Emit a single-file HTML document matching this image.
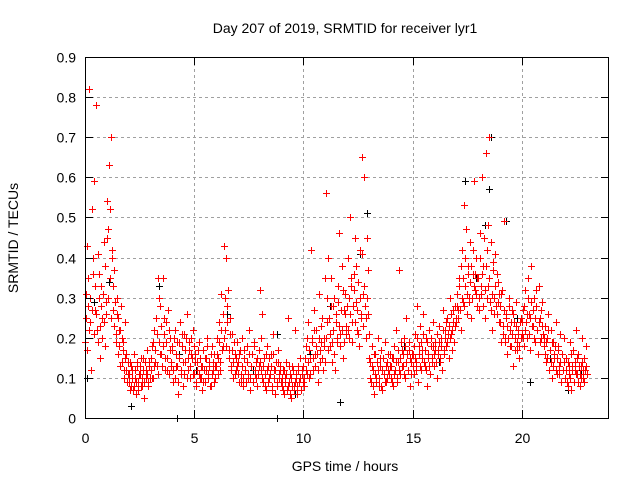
<!DOCTYPE html>
<html><head><meta charset="utf-8"><style>
body{margin:0;background:#fff;}
svg{display:block;font-family:"Liberation Sans",sans-serif;}
</style></head><body>
<svg id="chart" width="640" height="480" viewBox="0 0 640 480">
<rect width="640" height="480" fill="#fff"/>
<g id="grid"></g>
<g id="marks"></g>
<g id="axes"></g>
<text x="345" y="33" font-size="14" text-anchor="middle">Day 207 of 2019, SRMTID for receiver lyr1</text>
<text x="345" y="471" font-size="14" text-anchor="middle">GPS time / hours</text>
<text transform="translate(18,238) rotate(-90)" font-size="14" text-anchor="middle">SRMTID / TECUs</text>
</svg>
<script>
const xTicks=[0,5,10,15,20];
const yTicks=[0,0.1,0.2,0.3,0.4,0.5,0.6,0.7,0.8,0.9];
const yTickLabels=["0","0.1","0.2","0.3","0.4","0.5","0.6","0.7","0.8","0.9"];
const redStartHour=0.0;
const redStepHour=0.05;
const redValues=[
.19,.31,.43,.28,.82,.24,.52,.36,.59,.27,.78,.22,.41,.30,.15,.33,.25,.44,.18,.29,
.54,.47,.63,.35,.70,.42,.27,.37,.21,.30,.25,.18,.22,.28,.14,.19,.12,.24,.16,.11,
.09,.14,.08,.12,.07,.16,.10,.06,.13,.09,.11,.15,.08,.12,.05,.14,.10,.17,.09,.13,
.12,.18,.10,.22,.14,.25,.13,.35,.19,.28,.16,.35,.21,.12,.24,.15,.27,.11,.20,.14,
.17,.09,.22,.13,.19,.06,.15,.24,.11,.18,.08,.21,.14,.26,.12,.17,.10,.20,.15,.22,
.11,.16,.08,.14,.19,.10,.13,.07,.17,.12,.09,.15,.20,.11,.14,.08,.18,.12,.16,.10,
.13,.20,.15,.24,.12,.31,.18,.43,.22,.40,.28,.32,.17,.25,.13,.21,.10,.16,.12,.19,
.14,.09,.17,.11,.20,.08,.15,.12,.18,.10,.22,.07,.13,.16,.09,.19,.11,.14,.08,.17,
.32,.12,.26,.09,.15,.11,.07,.18,.13,.10,.16,.08,.21,.12,.06,.14,.09,.17,.11,.13,
.08,.12,.06,.10,.14,.07,.25,.09,.11,.05,.13,.08,.22,.10,.06,.12,.09,.15,.07,.11,
.13,.08,.18,.11,.24,.10,.15,.42,.20,.12,.27,.16,.22,.09,.31,.14,.19,.25,.12,.18,
.35,.56,.24,.40,.18,.28,.14,.22,.30,.12,.26,.19,.33,.46,.21,.38,.15,.27,.31,.23,
.28,.40,.20,.50,.33,.24,.36,.45,.29,.22,.34,.18,.42,.26,.65,.31,.60,.25,.45,.37,
.21,.14,.09,.18,.12,.06,.16,.10,.20,.08,.13,.17,.07,.15,.11,.19,.09,.14,.12,.16,
.10,.15,.08,.18,.12,.22,.09,.14,.37,.11,.17,.13,.20,.10,.25,.16,.12,.19,.08,.14,
.16,.11,.21,.14,.28,.09,.18,.23,.12,.17,.26,.13,.20,.08,.15,.22,.11,.18,.14,.24,
.13,.19,.10,.17,.23,.14,.20,.12,.27,.16,.22,.18,.25,.15,.30,.21,.17,.24,.19,.28,
.24,.31,.27,.35,.22,.42,.29,.53,.33,.47,.26,.38,.30,.44,.25,.36,.59,.32,.40,.28,
.35,.27,.46,.31,.60,.38,.25,.66,.42,.33,.70,.29,.44,.22,.37,.30,.41,.26,.34,.24,
.28,.19,.32,.23,.49,.20,.26,.16,.30,.22,.18,.27,.13,.24,.20,.29,.17,.22,.15,.25,
.21,.27,.18,.32,.24,.20,.35,.26,.17,.38,.23,.30,.19,.28,.22,.16,.33,.25,.20,.29,
.18,.23,.14,.20,.26,.12,.17,.22,.10,.19,.15,.24,.11,.18,.13,.21,.09,.16,.12,.20,
.10,.15,.08,.13,.19,.07,.12,.17,.09,.14,.22,.11,.16,.08,.13,.20,.10,.15,.12,.18
];
const redStartHourB=0.025;
const redValuesB=[
.25,.17,.35,.22,.30,.12,.27,.40,.21,.33,.26,.19,.36,.23,.28,.20,.31,.24,.38,.26,
.45,.30,.52,.25,.40,.33,.23,.29,.19,.26,.16,.22,.13,.20,.17,.10,.15,.12,.09,.14,
.11,.07,.13,.10,.08,.12,.09,.14,.07,.11,.13,.08,.10,.15,.09,.12,.11,.08,.14,.10,
.15,.10,.19,.13,.17,.21,.11,.30,.16,.23,.13,.18,.25,.15,.19,.12,.22,.17,.13,.18,
.12,.20,.10,.16,.13,.09,.19,.12,.21,.14,.11,.17,.20,.10,.15,.19,.13,.16,.11,.18,
.14,.09,.12,.17,.11,.15,.10,.13,.09,.15,.12,.18,.10,.13,.08,.16,.11,.14,.09,.13,
.16,.11,.19,.14,.22,.17,.26,.20,.30,.18,.24,.15,.21,.12,.17,.14,.19,.11,.15,.13,
.11,.16,.09,.13,.10,.17,.12,.09,.14,.11,.16,.10,.13,.09,.18,.12,.10,.15,.11,.13,
.14,.20,.10,.13,.08,.16,.12,.09,.15,.11,.13,.07,.16,.10,.12,.08,.14,.10,.12,.09,
.10,.07,.12,.09,.11,.08,.13,.06,.10,.08,.12,.07,.09,.11,.08,.13,.10,.07,.12,.09,
.10,.15,.12,.20,.14,.17,.11,.19,.15,.22,.13,.18,.16,.12,.20,.17,.23,.15,.20,.14,
.20,.30,.17,.25,.21,.35,.19,.28,.16,.24,.20,.29,.23,.18,.27,.22,.32,.19,.26,.21,
.22,.30,.26,.35,.19,.28,.32,.24,.38,.27,.21,.30,.25,.41,.23,.33,.28,.20,.30,.26,
.15,.10,.13,.08,.16,.11,.09,.14,.12,.10,.15,.08,.12,.11,.09,.13,.10,.16,.11,.13,
.13,.09,.15,.11,.14,.10,.17,.12,.15,.19,.13,.16,.11,.18,.14,.12,.17,.15,.11,.16,
.13,.18,.15,.12,.20,.16,.13,.19,.15,.21,.14,.17,.12,.19,.16,.13,.20,.15,.18,.16,
.17,.14,.21,.16,.19,.15,.18,.22,.17,.20,.24,.19,.21,.23,.20,.26,.22,.27,.23,.25,
.28,.25,.33,.27,.38,.30,.35,.28,.40,.31,.36,.29,.34,.38,.30,.42,.33,.36,.31,.35,
.30,.40,.33,.36,.28,.45,.32,.38,.30,.48,.35,.27,.31,.39,.26,.33,.28,.36,.29,.31,
.24,.31,.21,.27,.19,.25,.23,.20,.28,.18,.24,.21,.26,.17,.23,.19,.21,.18,.24,.20,
.24,.20,.28,.22,.26,.30,.21,.25,.29,.23,.27,.20,.25,.32,.22,.24,.19,.27,.23,.21,
.20,.16,.19,.15,.22,.17,.14,.19,.13,.16,.18,.12,.15,.17,.11,.14,.16,.12,.14,.10,
.12,.09,.14,.11,.10,.16,.13,.09,.12,.11,.15,.09,.13,.11,.10,.14,.12,.09,.13,.11
];
const blackTimes=[0.1,0.4,1.1,2.1,2.5,3.4,4.3,5.1,6.5,7.7,8.8,9.6,10.3,11.2,11.7,12.6,12.9,13.7,14.6,15.4,16.2,17.4,17.9,18.3,18.6,18.5,19.3,19.8,20.4,21.3,22.1,22.7,4.2,8.8];
const blackValues=[0.10,0.29,0.34,0.03,0.13,0.33,0.16,0.12,0.26,0.12,0.21,0.06,0.16,0.28,0.04,0.41,0.51,0.11,0.18,0.12,0.14,0.59,0.35,0.48,0.70,0.57,0.49,0.25,0.09,0.15,0.07,0.12,0.0,0.0];

const X0=85,X1=609,Y0=418,Y1=57;
const xScale=h=>X0+(h/24)*(X1-X0);
const yScale=v=>Y0-(v/0.9)*(Y0-Y1);
const NS="http://www.w3.org/2000/svg";
function mk(tag,attrs,parent){const e=document.createElementNS(NS,tag);for(const k in attrs)e.setAttribute(k,attrs[k]);parent.appendChild(e);return e;}
const grid=document.getElementById('grid'),axes=document.getElementById('axes'),marks=document.getElementById('marks');
yTicks.forEach((v,i)=>{
  const y=Math.round(yScale(v))+0.5;
  if(i>0&&i<yTicks.length-1){const g=mk('line',{x1:X0,x2:X1,y1:y,y2:y,stroke:'#a0a0a0','stroke-dasharray':'3,3'},grid);
  
  }
  const t=mk('line',{x1:X0,x2:X0+8,y1:y,y2:y,stroke:'#000'},axes);
  
  
  const t2=mk('line',{x1:X1-8,x2:X1,y1:y,y2:y,stroke:'#000'},axes);
  
  
  const l=mk('text',{x:76,y:y+5,'font-size':14,'text-anchor':'end'},axes);l.textContent=yTickLabels[i];
  
  
});
xTicks.forEach(h=>{
  const x=Math.round(xScale(h))+0.5;
  if(h>0){const g=mk('line',{x1:x,x2:x,y1:Y1,y2:Y0,stroke:'#a0a0a0','stroke-dasharray':'3,3'},grid);
  
  }
  const t=mk('line',{x1:x,x2:x,y1:Y0,y2:Y0-8,stroke:'#000'},axes);
  
  
  const t2=mk('line',{x1:x,x2:x,y1:Y1,y2:Y1+8,stroke:'#000'},axes);
  
  
  const l=mk('text',{x:x,y:443,'font-size':14,'text-anchor':'middle'},axes);l.textContent=String(h);
  
  
});
const frame=mk('rect',{x:X0+0.5,y:Y1+0.5,width:X1-X0-1,height:Y0-Y1,fill:'none',stroke:'#000'},axes);


function plus(x,y,color,name){
  const p=mk('path',{d:`M${x-3.5} ${y}H${x+3.5}M${x} ${y-3.5}V${y+3.5}`,stroke:color,'stroke-width':1,fill:'none'},marks);
  
  
}
blackTimes.forEach((h,i)=>plus(Math.round(xScale(h))+0.5,Math.round(yScale(blackValues[i]))+0.5,'#000','black-point'));
redValuesB.forEach((v,i)=>plus(Math.round(xScale(redStartHourB+i*redStepHour))+0.5,Math.round(yScale(v))+0.5,'#ff0000','red-point'));
redValues.forEach((v,i)=>plus(Math.round(xScale(redStartHour+i*redStepHour))+0.5,Math.round(yScale(v))+0.5,'#ff0000','red-point'));
</script>
</body></html>
